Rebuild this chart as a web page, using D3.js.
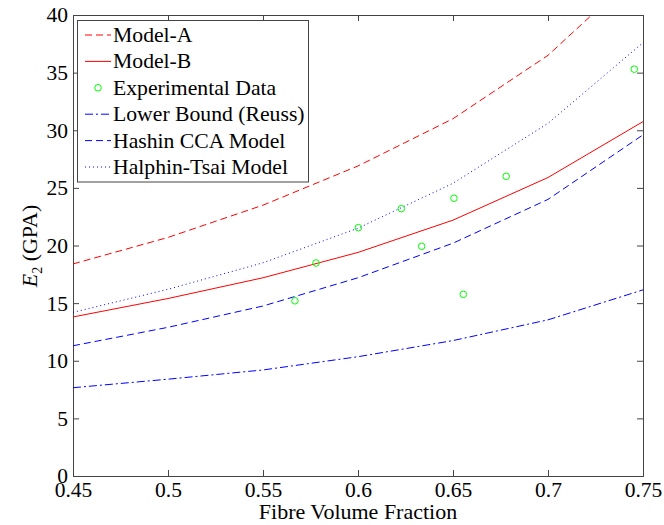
<!DOCTYPE html>
<html><head><meta charset="utf-8">
<script src="https://cdn.jsdelivr.net/npm/d3@7"></script>
<style>body{margin:0;background:#fff}svg{display:block}</style>
</head><body><svg id="c" width="664" height="525"></svg>
<script>
const fractions = [0.45, 0.5, 0.55, 0.6, 0.65, 0.7, 0.75];
const modelA = [18.4, 20.7, 23.5, 26.9, 31.0, 36.5, 44.1];
const modelB = [13.8, 15.4, 17.2, 19.4, 22.2, 25.9, 30.75];
const reuss = [7.66, 8.4, 9.2, 10.35, 11.75, 13.55, 16.15];
const hashin = [11.3, 12.9, 14.75, 17.2, 20.2, 24.0, 29.6];
const halpin = [14.2, 16.2, 18.5, 21.5, 25.4, 30.6, 37.6];
const expX = [0.5668, 0.5779, 0.6002, 0.6228, 0.6335, 0.6505, 0.6554, 0.678, 0.7454];
const expY = [15.2, 18.48, 21.55, 23.2, 19.93, 24.1, 15.76, 26.0, 35.3];
const xTicks = [0.45, 0.5, 0.55, 0.6, 0.65, 0.7, 0.75];
const yTicks = [0, 5, 10, 15, 20, 25, 30, 35, 40];
const legendLabels = ["Model-A", "Model-B", "Experimental Data", "Lower Bound (Reuss)", "Hashin CCA Model", "Halphin-Tsai Model"];

const FONT = '"Times New Roman","Liberation Serif","DejaVu Serif",serif';
const svg = d3.select("#c").style("font-family", FONT);
const L = 73, R = 643, T = 15, B = 476;
const x = d3.scaleLinear().domain([0.45, 0.75]).range([L, R]);
const y = d3.scaleLinear().domain([0, 40]).range([B, T]);
const axisCol = "#444";
const fs = "21.5px", fsBig = "21.7px";

svg.append("defs").append("clipPath").attr("id", "clip")
  .append("rect").attr("x", L).attr("y", T).attr("width", R - L).attr("height", B - T);

const ax = svg.append("g");
ax.append("g").attr("transform", `translate(0,${B})`)
  .call(d3.axisBottom(x).tickValues(xTicks).tickSize(-6).tickPadding(5.5).tickFormat(d3.format("")));
ax.append("g").attr("transform", `translate(0,${T})`)
  .call(d3.axisTop(x).tickValues(xTicks).tickSize(-6).tickFormat(""));
ax.append("g").attr("transform", `translate(${L},0)`)
  .call(d3.axisLeft(y).tickValues(yTicks).tickSize(-6).tickPadding(5));
ax.append("g").attr("transform", `translate(${R},0)`)
  .call(d3.axisRight(y).tickValues(yTicks).tickSize(-6).tickFormat(""));
ax.selectAll("g").attr("font-family", null).attr("font-size", null);
ax.selectAll("path.domain").attr("stroke", axisCol);
ax.selectAll(".tick line").attr("stroke", axisCol);
ax.selectAll("text").attr("fill", "#000").style("font-size", fs).style("font-family", FONT);

const series = [
  {v: modelA, c: "#ff0000", d: "7,4"},
  {v: modelB, c: "#ff0000", d: null},
  {v: reuss, c: "#0000ff", d: "8,3,2,3"},
  {v: hashin, c: "#0000ff", d: "7,4"},
  {v: halpin, c: "#0000ff", d: "1,3"}
];
const line = d3.line().x((d, i) => x(fractions[i])).y(d => y(d));
const plot = svg.append("g").attr("clip-path", "url(#clip)");
series.forEach(s => {
  plot.append("path").attr("d", line(s.v)).attr("fill", "none")
    .attr("stroke", s.c).attr("stroke-width", 1).attr("stroke-dasharray", s.d);
});
plot.selectAll("circle.e").data(expX).enter().append("circle")
  .attr("cx", (d) => x(d)).attr("cy", (d, i) => y(expY[i])).attr("r", 3.3)
  .attr("fill", "none").attr("stroke", "#00ff00").attr("stroke-width", 1);

const lg = svg.append("g");
lg.append("rect").attr("x", 77.5).attr("y", 20.5).attr("width", 231).attr("height", 161.5)
  .attr("fill", "#fff").attr("stroke", axisCol);
const styles = [
  {c: "#ff0000", d: "7,4"}, {c: "#ff0000", d: null}, {marker: true},
  {c: "#0000ff", d: "8,3,2,3"}, {c: "#0000ff", d: "7,4"}, {c: "#0000ff", d: "1,3"}
];
legendLabels.forEach((t, i) => {
  const yy = 35 + i * 26.4;
  const st = styles[i];
  if (st.marker) {
    lg.append("circle").attr("cx", 98).attr("cy", yy).attr("r", 3.3)
      .attr("fill", "none").attr("stroke", "#00ff00");
  } else {
    lg.append("line").attr("x1", 85).attr("x2", 111).attr("y1", yy).attr("y2", yy)
      .attr("stroke", st.c).attr("stroke-dasharray", st.d);
  }
  lg.append("text").attr("x", 113).attr("y", yy + 7).style("font-size", fsBig).style("font-family", FONT).text(t);
});

svg.append("text").attr("x", 358).attr("y", 519).attr("text-anchor", "middle")
  .style("font-size", "22px").style("font-family", FONT).text("Fibre Volume Fraction");
const yl = svg.append("text").attr("transform", "translate(37,246) rotate(-90)")
  .attr("text-anchor", "middle").style("font-size", "22px").style("font-family", FONT);
yl.append("tspan").attr("font-style", "italic").text("E");
yl.append("tspan").attr("dy", 5).style("font-size", "14px").text("2");
yl.append("tspan").attr("dy", -5).text(" (GPA)");
</script></body></html>
